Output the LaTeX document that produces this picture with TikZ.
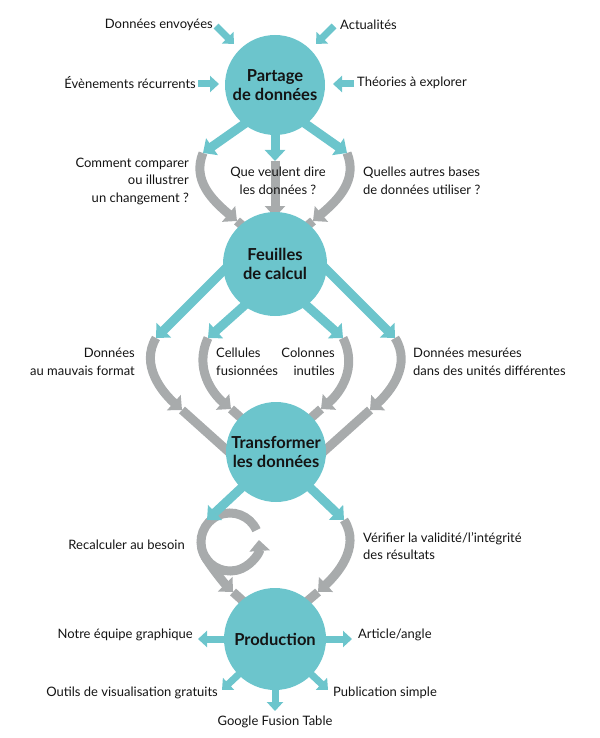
\documentclass[tikz,border=0pt]{standalone}
\usepackage{fontspec}
\setmainfont{Lato}
\usetikzlibrary{arrows.meta,calc}
\definecolor{tealc}{RGB}{108,197,204}
\definecolor{grayc}{RGB}{168,171,172}
\definecolor{txt}{RGB}{20,20,20}
\pgfdeclarelayer{bg}
\pgfsetlayers{bg,main}
\begin{document}
\begin{tikzpicture}[x=1pt,y=-1pt,
  circ/.style={circle,fill=tealc,minimum size=#1,inner sep=0pt,text=txt,
    font=\bfseries\fontsize{16.5}{19.5}\selectfont,align=center},
  lbl/.style={text=txt,font=\fontsize{13}{17.5}\selectfont,inner sep=0pt},
  tarrow/.style={draw=tealc,line width=9pt,-{Triangle[width=20pt,length=11pt]}},
  tsmall/.style={draw=tealc,line width=7pt,-{Triangle[width=16pt,length=9pt]}},
  garrow/.style={draw=grayc,line width=9pt,-{Triangle[width=20pt,length=11pt]}},
  gband/.style={draw=grayc,line width=9pt},
]
\useasboundingbox (0,0) rectangle (599,738);

% circles
\node[circ=100pt] (c1) at (275,85) {Partage\\de données};
\node[circ=104pt] (c2) at (275,264) {Feuilles\\de calcul};
\node[circ=100pt] (c3) at (276,452) {Transformer\\les données};
\node[circ=102pt] (c4) at (275,639) {Production};

% coordinates
\coordinate (a1s) at (216,26);  \coordinate (a1t) at (234,44);
\coordinate (a2s) at (334,26);  \coordinate (a2t) at (316,44);
\coordinate (a3s) at (198,84);  \coordinate (a3t) at (219,84);
\coordinate (a4s) at (354,84);  \coordinate (a4t) at (333,84);

\coordinate (r1ls) at (250,120); \coordinate (r1lt) at (203,153);
\coordinate (r1ms) at (275,120); \coordinate (r1mt) at (275,161);
\coordinate (r1rs) at (300,120); \coordinate (r1rt) at (347,153);

\coordinate (g1lT) at (237,221); \coordinate (g1lE) at (257,238);
\coordinate (g1mT) at (275,217); \coordinate (g1mE) at (275,240);
\coordinate (g1rT) at (313,221); \coordinate (g1rE) at (293,238);

\coordinate (r2as) at (236,258); \coordinate (r2at) at (156,338);
\coordinate (r2bs) at (255,296); \coordinate (r2bt) at (208,338);
\coordinate (r2cs) at (296,296); \coordinate (r2ct) at (343,338);
\coordinate (r2ds) at (315,258); \coordinate (r2dt) at (395,338);

\coordinate (g2aT) at (182,410); \coordinate (g2aE) at (240,462);
\coordinate (g2bT) at (231,409); \coordinate (g2bE) at (250,426);
\coordinate (g2cT) at (321,409); \coordinate (g2cE) at (302,426);
\coordinate (g2dT) at (370,410); \coordinate (g2dE) at (312,462);

\coordinate (r3ls) at (252,478); \coordinate (r3lt) at (207,520);
\coordinate (r3rs) at (300,478); \coordinate (r3rt) at (344,520);

\coordinate (loop) at (230,542);
\coordinate (g3lT) at (233,592); \coordinate (g3lE) at (253,610);
\coordinate (g3rT) at (318,592); \coordinate (g3rE) at (298,609);

\coordinate (p1) at (198,639);
\coordinate (p2) at (352,639);
\coordinate (p3) at (222,690);
\coordinate (p4) at (275,711);
\coordinate (p5) at (328,690);

\begin{pgfonlayer}{bg}
% gray row 1
\draw[gband] (g1lT) -- (g1lE);
\draw[gband] (g1mT) -- (g1mE);
\draw[gband] (g1rT) -- (g1rE);
\draw[garrow] (r1lt) .. controls (192,180) and (212,200) .. (g1lT);
\draw[garrow] (r1mt) -- (g1mT);
\draw[garrow] (r1rt) .. controls (358,180) and (338,200) .. (g1rT);
% gray row 2
\draw[gband] (g2aT) -- (g2aE);
\draw[gband] (g2bT) -- (g2bE);
\draw[gband] (g2cT) -- (g2cE);
\draw[gband] (g2dT) -- (g2dE);
\draw[garrow] (r2at) .. controls (140,365) and (162,392) .. (g2aT);
\draw[garrow] (r2bt) .. controls (194,368) and (212,393) .. (g2bT);
\draw[garrow] (r2ct) .. controls (358,368) and (340,393) .. (g2cT);
\draw[garrow] (r2dt) .. controls (412,365) and (390,392) .. (g2dT);
% gray row 3
\draw[gband] (g3lT) -- (g3lE);
\draw[gband] (g3rT) -- (g3rE);
\draw[garrow] ($(loop)+(210:29pt)$) .. controls (211,567) and (224,583) .. (g3lT);
\draw[garrow] ($(loop)+(24:29pt)$) arc[start angle=24,end angle=364,radius=29pt];
\draw[garrow] (r3rt) .. controls (362,548) and (335,576) .. (g3rT);
% teal
\draw[tsmall] (a1s) -- (a1t);
\draw[tsmall] (a2s) -- (a2t);
\draw[tsmall] (a3s) -- (a3t);
\draw[tsmall] (a4s) -- (a4t);
\draw[tarrow] (r1ls) -- (r1lt);
\draw[tarrow] (r1ms) -- (r1mt);
\draw[tarrow] (r1rs) -- (r1rt);
\draw[tarrow] (r2as) -- (r2at);
\draw[tarrow] (r2bs) -- (r2bt);
\draw[tarrow] (r2cs) -- (r2ct);
\draw[tarrow] (r2ds) -- (r2dt);
\draw[tarrow] (r3ls) -- (r3lt);
\draw[tarrow] (r3rs) -- (r3rt);
\draw[tsmall] (c4.center) ++(-25,0) -- (p1);
\draw[tsmall] (c4.center) ++(25,0) -- (p2);
\draw[tsmall] (c4.center) ++(-20,20) -- (p3);
\draw[tsmall] (c4.center) ++(0,30) -- (p4);
\draw[tsmall] (c4.center) ++(20,20) -- (p5);
\end{pgfonlayer}

% labels
\node[lbl,anchor=east] (l1) at (213,25) {Données envoyées};
\node[lbl,anchor=west] (l2) at (340,25) {Actualités};
\node[lbl,anchor=east] (l3) at (196,83) {Évènements récurrents};
\node[lbl,anchor=west] (l4) at (357,83) {Théories à explorer};
\node[lbl,anchor=east,align=right] (l5) at (189,181) {Comment comparer\\ou illustrer\\un changement ?};
\node[lbl,align=center] (l6) at (278,181) {Que veulent dire\\les données ?};
\node[lbl,anchor=west,align=left] (l7) at (363,181) {Quelles autres bases\\de données utiliser ?};
\node[lbl,anchor=east,align=right] (l8) at (135,362) {Données\\au mauvais format};
\node[lbl,anchor=west,align=left] (l9) at (216,362) {Cellules\\fusionnées};
\node[lbl,anchor=east,align=right] (l10) at (335,362) {Colonnes\\inutiles};
\node[lbl,anchor=west,align=left] (l11) at (413,362) {Données mesurées\\dans des unités différentes};
\node[lbl,anchor=east] (l12) at (185,545) {Recalculer au besoin};
\node[lbl,anchor=west,align=left] (l13) at (363,546) {Vérifier la validité/l’intégrité\\des résultats};
\node[lbl,anchor=east] (l14) at (193,635) {Notre équipe graphique};
\node[lbl,anchor=west] (l15) at (358,635) {Article/angle};
\node[lbl,anchor=east] (l16) at (218,693) {Outils de visualisation gratuits};
\node[lbl,anchor=west] (l17) at (333,693) {Publication simple};
\node[lbl] (l18) at (275,722) {Google Fusion Table};
\end{tikzpicture}
\end{document}
